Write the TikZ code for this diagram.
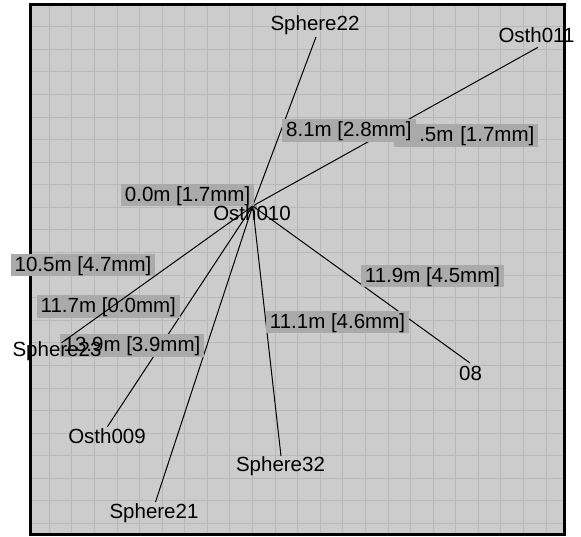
\documentclass[tikz,border=0pt]{standalone}
\usepackage{fontspec}
\setmainfont{Liberation Sans}
\definecolor{bgc}{RGB}{204,204,204}
\definecolor{gridc}{RGB}{184,184,184}
\definecolor{boxc}{RGB}{170,170,170}
\definecolor{hubc}{RGB}{150,150,150}
\begin{document}
\begin{tikzpicture}[x=1pt,y=-1pt,
  lbl/.style={fill=boxc, inner xsep=4pt, inner ysep=0.5pt, text height=17pt, text depth=4.5pt, font=\fontsize{20.5}{24}\selectfont},
  stn/.style={inner sep=0pt, text height=15pt, text depth=4.3pt, font=\fontsize{20.5}{24}\selectfont},
  leg/.style={draw=black, line width=1pt},
  gridline/.style={draw=gridc, line width=1pt}]
\useasboundingbox (0,0) rectangle (581,537);
\fill[white] (0,0) rectangle (581,537);
\fill[bgc] (30,4) rectangle (565,535);
\foreach \i in {0,...,22} \draw[gridline] ({49.3+22.58*\i},4) -- ({49.3+22.58*\i},535);
\foreach \j in {1,...,23} \draw[gridline] (30,{4.2+22.58*\j}) -- (565,{4.2+22.58*\j});
\draw[black, line width=2.5pt] (30.5,4.5) rectangle (564.5,534.5);
% station points
\coordinate (hub) at (252.7,206);
\coordinate (p22) at (316,37);
\coordinate (p011) at (538,47.3);
\coordinate (p08) at (470,363);
\coordinate (p32) at (281,456);
\coordinate (p21) at (155.5,502);
\coordinate (p009) at (107.4,426.7);
\coordinate (p23) at (61.7,342.7);
\node[fill=hubc, minimum width=9.5pt, minimum height=5.5pt, inner sep=0pt] (hubmark) at (252,207.5) {};
% legs
\draw[leg] (hub) -- (p22);
\draw[leg] (hub) -- (p011);
\draw[leg] (hub) -- (p08);
\draw[leg] (hub) -- (p32);
\draw[leg] (hub) -- (p21);
\draw[leg] (hub) -- (p009);
% leg labels
\node[lbl] (l00) at (187.6,195) {0.0m [1.7mm]};
\node[lbl, text width=136pt, align=right, anchor=east] (l05) at (538.5,135.3) {.5m [1.7mm]};
\node[lbl] (l81) at (348.9,130.5) {8.1m [2.8mm]};
\node[lbl] (l105) at (83,265) {10.5m [4.7mm]};
\node[lbl] (l117) at (108.3,306.7) {11.7m [0.0mm]};
\node[lbl] (l139) at (132,345.7) {13.9m [3.9mm]};
\node[lbl] (l119) at (432.5,276) {11.9m [4.5mm]};
\node[lbl] (l111) at (337.5,322) {11.1m [4.6mm]};
\draw[leg] (hub) -- (p23);
% station names
\node[stn] (n22) at (315,25) {Sphere22};
\node[stn] (n011) at (536.5,37) {Osth011};
\node[stn] (n010) at (252,215) {Osth010};
\node[stn] (n08) at (470.5,375) {08};
\node[stn] (n32) at (280.5,466) {Sphere32};
\node[stn] (n21) at (154,513) {Sphere21};
\node[stn] (n009) at (107,438) {Osth009};
\node[stn] (n23) at (57,351) {Sphere23};
\end{tikzpicture}
\end{document}
